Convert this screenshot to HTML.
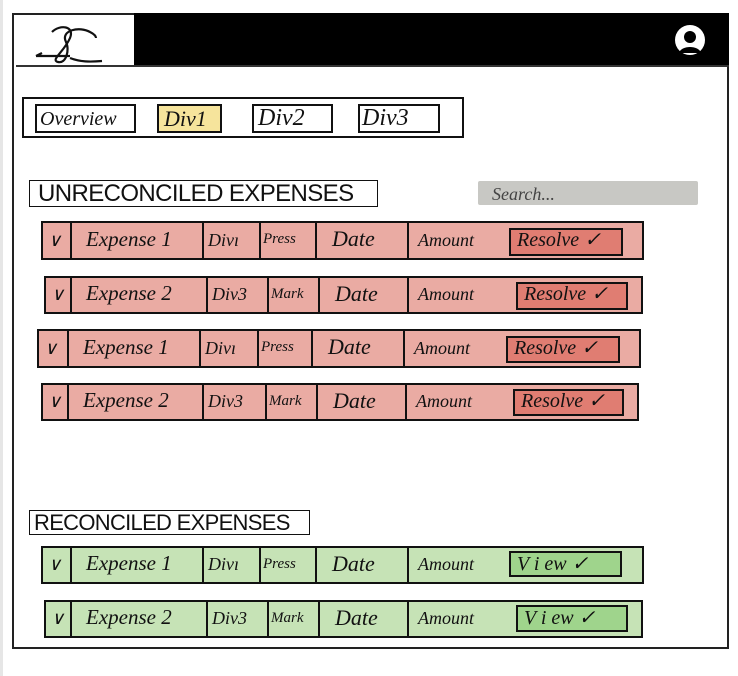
<!DOCTYPE html>
<html><head><meta charset="utf-8"><style>
*{margin:0;padding:0;box-sizing:border-box}
body{width:738px;height:676px;background:#fff;position:relative;overflow:hidden;font-family:"Liberation Sans",sans-serif;color:#111}
.a{position:absolute}
.b{position:absolute;border:2px solid #111}
.t{position:absolute;font-family:"Liberation Serif",serif;font-style:italic;white-space:nowrap;line-height:1}
.v{position:absolute;width:2px;background:#111}
</style></head><body>
<div class="a" style="left:0;top:0;width:3px;height:676px;background:#e6e6e6"></div>
<div class="b" style="left:12px;top:13px;width:717px;height:636px;border-color:#222"></div>
<div class="a" style="left:134px;top:13px;width:595px;height:53px;background:#000"></div>
<div class="a" style="left:16px;top:65px;width:713px;height:2px;background:#333"></div>
<svg class="a" style="left:30px;top:20px" width="80" height="45" viewBox="0 0 80 45">
<path d="M22 12 C30 4,45 6,40 18 C34 32,20 40,28 42 C36 44,40 30,36 22 C30 10,50 6,60 12 C64 14,66 16,66 18 M6 36 L40 36 M40 38 C50 42,60 42,72 41 M6 36 L12 33" fill="none" stroke="#111" stroke-width="2.2"/>
</svg>
<svg class="a" style="left:671px;top:25px" width="38" height="32" viewBox="0 0 38 32">
<circle cx="19" cy="15" r="15" fill="#fff"/><circle cx="19" cy="12" r="6" fill="#000"/><path d="M8 28 C10 20,28 20,30 28 Z" fill="#000"/>
</svg>
<div class="b" style="left:22px;top:97px;width:442px;height:41px"></div>
<div class="b" style="left:35px;top:104px;width:101px;height:29px"></div><div class="t" style="left:40px;top:109px;font-size:20px">Overview</div>
<div class="b" style="left:157px;top:104px;width:65px;height:29px;background:#f6e49c"></div><div class="t" style="left:164px;top:108px;font-size:22px">Div1</div>
<div class="b" style="left:252px;top:104px;width:81px;height:29px"></div><div class="t" style="left:258px;top:106px;font-size:24px">Div2</div>
<div class="b" style="left:358px;top:104px;width:82px;height:29px"></div><div class="t" style="left:362px;top:106px;font-size:24px">Div3</div>
<div class="b" style="left:29px;top:180px;width:349px;height:27px;border-width:1.5px"></div>
<div class="a" style="left:38px;top:180px;font-size:24px;letter-spacing:-0.6px">UNRECONCILED EXPENSES</div>
<div class="a" style="left:478px;top:181px;width:220px;height:24px;background:#c8c8c4;border-radius:2px"></div>
<div class="t" style="left:492px;top:185px;font-size:18px;color:#444">Search...</div>
<div class="b" style="left:29px;top:510px;width:281px;height:25px;border-width:1.5px"></div>
<div class="a" style="left:34px;top:510px;font-size:22px;letter-spacing:-0.7px">RECONCILED EXPENSES</div>
<div id="rows"></div>
<script>
var rows=[
[41,644,221,260,[70,202,259,315,407],509,623,228,256,'#eaaba3','#e07d72','Expense 1','Divı','Press','Resolve ✓'],
[44,643,276,314,[70,206,267,318,407],516,628,282,310,'#eaaba3','#e07d72','Expense 2','Div3','Mark','Resolve ✓'],
[37,641,329,368,[67,199,257,311,403],506,620,336,363,'#eaaba3','#e07d72','Expense 1','Divı','Press','Resolve ✓'],
[41,639,383,421,[67,202,265,316,405],513,624,389,416,'#eaaba3','#e07d72','Expense 2','Div3','Mark','Resolve ✓'],
[41,644,546,584,[70,202,259,315,407],509,622,551,577,'#c6e3b6','#9fd48c','Expense 1','Divı','Press','V i ew ✓'],
[44,643,600,638,[70,206,267,318,407],516,628,605,632,'#c6e3b6','#9fd48c','Expense 2','Div3','Mark','V i ew ✓']];
var h='';
rows.forEach(function(r){
var x0=r[0],x1=r[1],y0=r[2],y1=r[3],c=r[4],H=y1-y0;
h+='<div class="b" style="left:'+x0+'px;top:'+y0+'px;width:'+(x1-x0)+'px;height:'+H+'px;background:'+r[9]+'"></div>';
c.forEach(function(x){h+='<div class="v" style="left:'+x+'px;top:'+y0+'px;height:'+H+'px"></div>';});
h+='<div class="b" style="left:'+r[5]+'px;top:'+r[7]+'px;width:'+(r[6]-r[5])+'px;height:'+(r[8]-r[7])+'px;background:'+r[10]+'"></div>';
var ty=y0+H/2;
function T(x,s,fs){h+='<div class="t" style="left:'+x+'px;top:'+(ty-fs*0.55)+'px;font-size:'+fs+'px">'+s+'</div>';}
T(x0+7,'∨',18);
T(c[0]+16,r[11],21);
T(c[1]+6,r[12],18);
T(c[2]+4,r[13],15);
T(c[3]+17,'Date',22);
T(c[4]+11,'Amount',18);
T(r[5]+8,r[14],20);
});
document.getElementById('rows').innerHTML=h;
</script>
</body></html>
